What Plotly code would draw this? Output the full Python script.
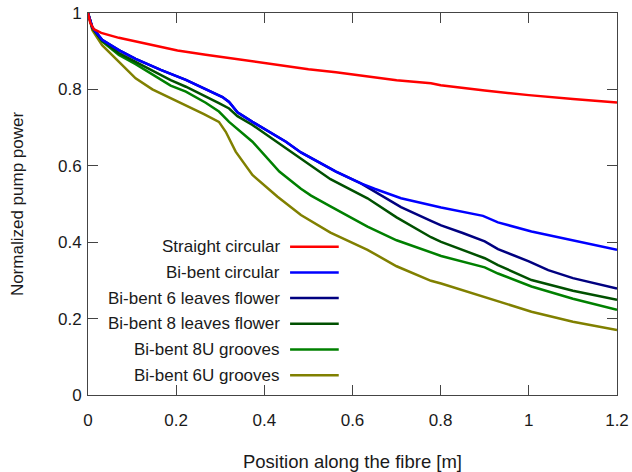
import plotly.graph_objects as go

# Pump power along the fibre for each fibre geometry
straight_x = [0, 0.005, 0.013, 0.03, 0.07, 0.108, 0.146, 0.203, 0.267, 0.373, 0.5, 0.5625, 0.7, 0.778, 0.8, 0.9, 1.0, 1.1, 1.2]
straight_y = [1, 0.975, 0.958, 0.948, 0.935, 0.925, 0.915, 0.902, 0.891, 0.873, 0.853, 0.845, 0.824, 0.816, 0.811, 0.797, 0.785, 0.775, 0.766]

circ_x = [0, 0.01, 0.032, 0.07, 0.108, 0.165, 0.222, 0.297, 0.305, 0.32, 0.339, 0.373, 0.415, 0.449, 0.483, 0.506, 0.5625, 0.619, 0.65, 0.71, 0.778, 0.801, 0.896, 0.93, 1.006, 1.1, 1.2]
circ_y = [1, 0.962, 0.930, 0.903, 0.880, 0.851, 0.825, 0.786, 0.780, 0.767, 0.740, 0.715, 0.685, 0.663, 0.635, 0.620, 0.585, 0.554, 0.540, 0.515, 0.497, 0.491, 0.469, 0.452, 0.428, 0.404, 0.380]

flower6_x = [0, 0.01, 0.032, 0.07, 0.108, 0.165, 0.222, 0.297, 0.305, 0.32, 0.339, 0.373, 0.415, 0.449, 0.483, 0.506, 0.5625, 0.619, 0.65, 0.71, 0.778, 0.801, 0.85, 0.9, 0.93, 1.0, 1.044, 1.1, 1.2]
flower6_y = [1, 0.962, 0.930, 0.903, 0.880, 0.851, 0.825, 0.786, 0.780, 0.767, 0.740, 0.715, 0.685, 0.663, 0.635, 0.620, 0.585, 0.554, 0.533, 0.492, 0.456, 0.444, 0.424, 0.402, 0.382, 0.350, 0.327, 0.306, 0.279]

flower8_x = [0, 0.01, 0.032, 0.07, 0.108, 0.1875, 0.222, 0.267, 0.297, 0.32, 0.339, 0.373, 0.449, 0.525, 0.55, 0.634, 0.7, 0.778, 0.801, 0.9, 0.93, 1.006, 1.1, 1.2]
flower8_y = [1, 0.96, 0.928, 0.895, 0.872, 0.824, 0.807, 0.782, 0.764, 0.750, 0.730, 0.707, 0.646, 0.585, 0.565, 0.515, 0.465, 0.413, 0.401, 0.358, 0.340, 0.301, 0.273, 0.249]

groove8_x = [0, 0.01, 0.032, 0.07, 0.108, 0.1875, 0.222, 0.267, 0.297, 0.32, 0.373, 0.434, 0.483, 0.506, 0.55, 0.634, 0.7, 0.778, 0.801, 0.9, 0.93, 1.006, 1.1, 1.2]
groove8_y = [1, 0.96, 0.926, 0.89, 0.866, 0.810, 0.794, 0.765, 0.742, 0.715, 0.663, 0.585, 0.540, 0.522, 0.494, 0.441, 0.405, 0.373, 0.364, 0.334, 0.318, 0.284, 0.252, 0.223]

groove6_x = [0, 0.01, 0.032, 0.07, 0.108, 0.146, 0.222, 0.263, 0.297, 0.3125, 0.335, 0.373, 0.43, 0.483, 0.55, 0.634, 0.7, 0.778, 0.801, 0.9, 1.006, 1.1, 1.2]
groove6_y = [1, 0.955, 0.916, 0.873, 0.829, 0.800, 0.759, 0.735, 0.715, 0.689, 0.637, 0.576, 0.519, 0.471, 0.425, 0.380, 0.337, 0.299, 0.292, 0.257, 0.218, 0.192, 0.170]

series = [
    ("Straight circular", straight_x, straight_y, "#ff0000"),
    ("Bi-bent circular", circ_x, circ_y, "#0000ff"),
    ("Bi-bent 6 leaves flower", flower6_x, flower6_y, "#000080"),
    ("Bi-bent 8 leaves flower", flower8_x, flower8_y, "#005000"),
    ("Bi-bent 8U grooves", groove8_x, groove8_y, "#008000"),
    ("Bi-bent 6U grooves", groove6_x, groove6_y, "#808000"),
]

x_ticks = [0, 0.2, 0.4, 0.6, 0.8, 1.0, 1.2]
x_tick_labels = ["0", "0.2", "0.4", "0.6", "0.8", "1", "1.2"]
y_ticks = [0, 0.2, 0.4, 0.6, 0.8, 1.0]
y_tick_labels = ["0", "0.2", "0.4", "0.6", "0.8", "1"]

font = "Liberation Sans, Arial, sans-serif"
text_color = "#1a1a1a"
fig = go.Figure()

# Draw back to front so the first series ends up on top
for name, xs, ys, color in reversed(series):
    fig.add_trace(go.Scatter(x=xs, y=ys, mode="lines", name=name,
                             line=dict(color=color, width=2.5),
                             showlegend=False))

# Key: right-aligned labels followed by a sample line, top to bottom
key_top = 0.388
key_step = 0.0672
annotations = []
shapes = []
for i, (name, xs, ys, color) in enumerate(series):
    yk = key_top - i * key_step
    annotations.append(dict(x=0.359, y=yk, xref="paper", yref="paper",
                            text=name, showarrow=False, xanchor="right",
                            yanchor="middle", xshift=4,
                            font=dict(family=font, size=17, color=text_color)))
    shapes.append(dict(type="line", xref="paper", yref="paper",
                       x0=0.382, x1=0.474, y0=yk, y1=yk,
                       line=dict(color=color, width=2.5)))

axis_common = dict(showgrid=False, zeroline=False, showline=True,
                   linecolor="#444444", linewidth=1, mirror="ticks",
                   ticks="inside", ticklen=10, tickcolor="#444444",
                   automargin=False,
                   tickfont=dict(family=font, size=17, color=text_color))

fig.update_layout(
    width=632, height=472,
    margin=dict(l=88, r=15, t=13, b=77),
    plot_bgcolor="white", paper_bgcolor="white",
    xaxis=dict(range=[0, 1.2], tickvals=x_ticks, ticktext=x_tick_labels,
               ticklabelstandoff=10,
               title=dict(text="Position along the fibre [m]", standoff=28,
                          font=dict(family=font, size=18.5, color=text_color)),
               **axis_common),
    yaxis=dict(range=[0, 1], tickvals=y_ticks, ticktext=y_tick_labels,
               ticklabelstandoff=2,
               title=dict(text="Normalized pump power", standoff=30,
                          font=dict(family=font, size=17, color=text_color)),
               **axis_common),
    annotations=annotations,
    shapes=shapes,
)

fig.write_html("out.html")
